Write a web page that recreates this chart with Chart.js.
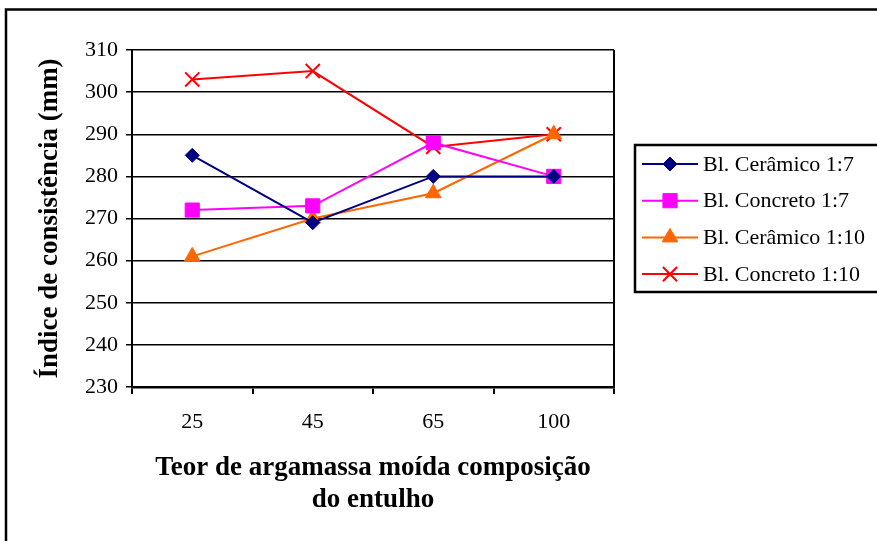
<!DOCTYPE html>
<html>
<head>
<meta charset="utf-8">
<script src="https://cdn.jsdelivr.net/npm/chart.js@4.4.0/dist/chart.umd.min.js"></script>
<style>
  html, body { margin: 0; padding: 0; background: #fff; }
  #wrap { width: 877px; height: 541px; position: relative; }
</style>
</head>
<body>
<div id="wrap"><canvas id="c" width="877" height="541"></canvas></div>
<script>
// dados
const teores = ['25', '45', '65', '100'];
const ceramico17 = [285, 269, 280, 280];
const concreto17 = [272, 273, 288, 280];
const ceramico110 = [261, 270, 276, 290];
const concreto110 = [303, 305, 287, 290];
const yTicks = [230, 240, 250, 260, 270, 280, 290, 300, 310];

const serif = '"Liberation Serif", "Times New Roman", serif';

function serie(label, data, color, style, radius) {
    return {
        label, data,
        borderColor: color, backgroundColor: color,
        borderWidth: 2,
        pointStyle: style, pointRadius: radius, pointHoverRadius: radius,
        pointBorderColor: color, pointBackgroundColor: color,
        pointBorderWidth: style === 'crossRot' ? 2 : 1,
        tension: 0
    };
}

// moldura externa, borda direita da área de plotagem e legenda
const extras = {
    id: 'extras',
    afterDraw(chart) {
        const { ctx, chartArea } = chart;
        ctx.save();
        ctx.strokeStyle = '#000';
        ctx.lineWidth = 2.5;
        ctx.strokeRect(6, 9.5, 1000, 1000);

        ctx.lineWidth = 2;
        ctx.beginPath();
        ctx.moveTo(chartArea.right, chartArea.top);
        ctx.lineTo(chartArea.right, chartArea.bottom);
        ctx.stroke();

        // legenda
        const lx = 635, ly = 145, lw = 250, lh = 147;
        ctx.lineWidth = 2.5;
        ctx.strokeRect(lx, ly, lw, lh);
        ctx.font = '22px ' + serif;
        ctx.textBaseline = 'middle';
        ctx.fillStyle = '#000';
        chart.data.datasets.forEach((ds, i) => {
            const y = 164 + i * 36.7;
            ctx.strokeStyle = ds.borderColor;
            ctx.lineWidth = 2;
            ctx.beginPath();
            ctx.moveTo(642, y);
            ctx.lineTo(698, y);
            ctx.stroke();
            ctx.fillStyle = ds.backgroundColor;
            ctx.lineWidth = ds.pointBorderWidth;
            Chart.helpers.drawPoint(ctx, { pointStyle: ds.pointStyle, radius: ds.pointRadius, rotation: 0, borderWidth: ds.pointBorderWidth }, 670, y);
            ctx.fillStyle = '#000';
            ctx.fillText(ds.label, 703, y + 1);
        });
        ctx.restore();
    }
};

new Chart(document.getElementById('c'), {
    type: 'line',
    data: {
        labels: teores,
        datasets: [
            serie('Bl. Cerâmico 1:7', ceramico17, '#000080', 'rectRot', 7),
            serie('Bl. Concreto 1:7', concreto17, '#FF00FF', 'rect', 10),
            serie('Bl. Cerâmico 1:10', ceramico110, '#FF6600', 'triangle', 9),
            serie('Bl. Concreto 1:10', concreto110, '#FF0000', 'crossRot', 10)
        ]
    },
    options: {
        responsive: false,
        animation: false,
        layout: { padding: { left: 20, top: 50, right: 263, bottom: 0 } },
        plugins: { legend: { display: false }, tooltip: { enabled: false } },
        scales: {
            x: {
                offset: true,
                afterFit: s => { s.height = 154; },
                grid: { offset: true, drawOnChartArea: false, drawTicks: true, tickLength: 7, color: '#000', lineWidth: 2 },
                border: { display: true, color: '#000', width: 2.5 },
                ticks: { color: '#000', font: { family: serif, size: 22 }, padding: 15, maxRotation: 0 },
                title: {
                    display: true,
                    text: ['Teor de argamassa moída composição', 'do entulho'],
                    color: '#000',
                    font: { family: serif, size: 27, weight: 'bold', lineHeight: 1.22 },
                    padding: { top: 0, bottom: 24 }
                }
            },
            y: {
                min: 230, max: 310,
                afterFit: s => { s.width = 112; },
                afterBuildTicks: s => { s.ticks = yTicks.map(v => ({ value: v })); },
                grid: { color: '#000', lineWidth: 1.5, tickLength: 6 },
                border: { display: true, color: '#000', width: 2 },
                ticks: { color: '#000', font: { family: serif, size: 22 }, padding: 8 },
                title: {
                    display: true,
                    text: 'Índice de consistência (mm)',
                    color: '#000',
                    font: { family: serif, size: 27, weight: 'bold', lineHeight: 1.2 },
                    padding: { top: 14, bottom: 0 }
                }
            }
        }
    },
    plugins: [extras]
});
</script>
</body>
</html>
